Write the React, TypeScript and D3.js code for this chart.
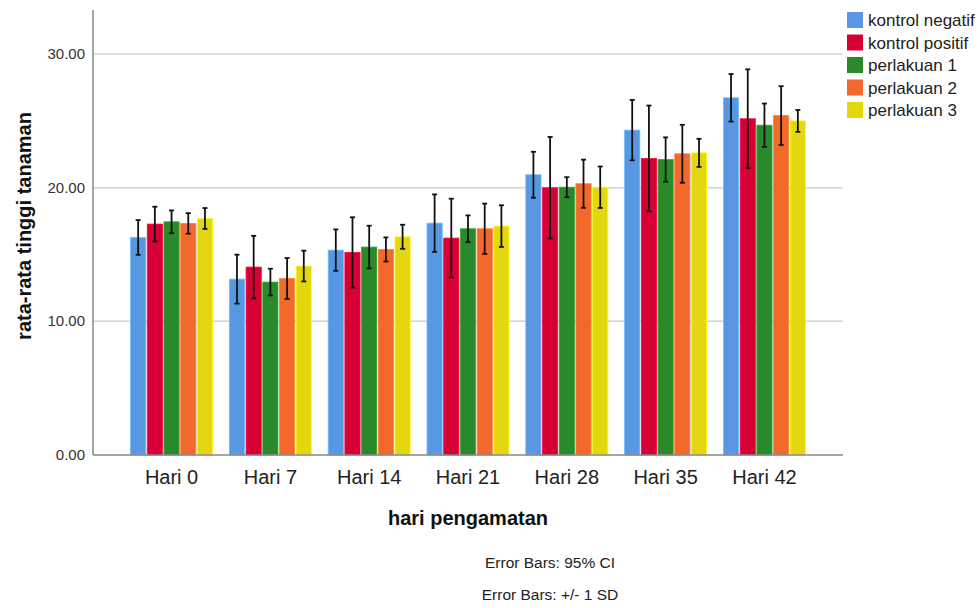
import React from 'react'
import * as d3 from 'd3'

// days observed
const categories = ['Hari 0', 'Hari 7', 'Hari 14', 'Hari 21', 'Hari 28', 'Hari 35', 'Hari 42']
const seriesNames = ['kontrol negatif', 'kontrol positif', 'perlakuan 1', 'perlakuan 2', 'perlakuan 3']
const colors = ['#5898e3', '#d70034', '#2a892a', '#f3692c', '#e4d710']

// mean height per series, one value per day
const kontrolNegatif = [16.28, 13.16, 15.33, 17.35, 20.97, 24.31, 26.73]
const kontrolPositif = [17.28, 14.06, 15.16, 16.23, 20.0, 22.19, 25.16]
const perlakuan1 = [17.45, 12.94, 15.56, 16.93, 20.04, 22.11, 24.68]
const perlakuan2 = [17.33, 13.21, 15.38, 16.93, 20.3, 22.54, 25.4]
const perlakuan3 = [17.7, 14.14, 16.33, 17.13, 20.04, 22.61, 25.0]

// +/- 1 SD
const sdNegatif = [1.3, 1.83, 1.55, 2.15, 1.72, 2.26, 1.78]
const sdPositif = [1.3, 2.34, 2.63, 2.95, 3.8, 3.96, 3.7]
const sd1 = [0.85, 1.0, 1.6, 1.0, 0.75, 1.66, 1.62]
const sd2 = [0.77, 1.53, 0.9, 1.88, 1.8, 2.17, 2.2]
const sd3 = [0.78, 1.15, 0.9, 1.56, 1.55, 1.05, 0.82]

const yTicks = [0, 10, 20, 30]

const means = [kontrolNegatif, kontrolPositif, perlakuan1, perlakuan2, perlakuan3]
const sds = [sdNegatif, sdPositif, sd1, sd2, sd3]

const font = 'Liberation Sans, Arial, sans-serif'

export default function App() {
  const width = 980, height = 608
  const left = 93, right = 843, top = 10, bottom = 455

  const x = d3.scalePoint<string>().domain(categories).range([left, right]).padding(0.795)
  const inner = d3.scaleBand<string>().domain(seriesNames).range([-41, 41]).paddingInner(0.09)
  const y = d3.scaleLinear().domain([0, 33.3]).range([bottom, top])

  return (
    <svg width={width} height={height} style={{ position: 'absolute', left: 0, top: 0 }} fontFamily={font}>
      <rect width={width} height={height} fill="#fff" />
      {yTicks.filter(t => t > 0).map(t => (
        <line key={t} x1={left} x2={right} y1={y(t)} y2={y(t)} stroke="#d4d4d4" strokeWidth={1.5} />
      ))}
      {yTicks.map(t => (
        <text key={'l' + t} x={85} y={y(t) + 5} textAnchor="end" fontSize={15} fill="#333">{t.toFixed(2)}</text>
      ))}
      {categories.map((c, ci) => (
        <g key={c} transform={`translate(${x(c)},0)`}>
          {seriesNames.map((s, si) => {
            const v = means[si][ci]
            const sd = sds[si][ci]
            const bx = inner(s)!
            const bw = inner.bandwidth()
            const cx = bx + bw / 2
            return (
              <g key={s}>
                <rect x={bx} y={y(v)} width={bw} height={y(0) - y(v)} fill={colors[si]} stroke={d3.color(colors[si])!.brighter(0.6).toString()} strokeWidth={0.8} />
                <line x1={cx} x2={cx} y1={y(v + sd)} y2={y(v - sd)} stroke="#111" strokeWidth={1.8} />
                <line x1={cx - 2.5} x2={cx + 2.5} y1={y(v + sd)} y2={y(v + sd)} stroke="#111" strokeWidth={1.8} />
                <line x1={cx - 2.5} x2={cx + 2.5} y1={y(v - sd)} y2={y(v - sd)} stroke="#111" strokeWidth={1.8} />
              </g>
            )
          })}
          <text x={0} y={484} textAnchor="middle" fontSize={20} fill="#222">{c}</text>
        </g>
      ))}
      <line x1={left} x2={left} y1={top} y2={bottom} stroke="#888" strokeWidth={1.5} />
      <line x1={left} x2={right} y1={bottom} y2={bottom} stroke="#888" strokeWidth={1.5} />
      <text transform="translate(31,226) rotate(-90)" textAnchor="middle" fontSize={20} fontWeight="bold" fill="#111">rata-rata tinggi tanaman</text>
      <text x={468} y={525} textAnchor="middle" fontSize={20} fontWeight="bold" fill="#111">hari pengamatan</text>
      <text x={550} y={568} textAnchor="middle" fontSize={15.5} fill="#222">Error Bars: 95% CI</text>
      <text x={550} y={600} textAnchor="middle" fontSize={15.5} fill="#222">Error Bars: +/- 1 SD</text>
      {seriesNames.map((s, i) => (
        <g key={s} transform={`translate(847,${12 + i * 22.5})`}>
          <rect width={16} height={16} fill={colors[i]} />
          <text x={21} y={14} fontSize={17} fill="#222">{s}</text>
        </g>
      ))}
    </svg>
  )
}
